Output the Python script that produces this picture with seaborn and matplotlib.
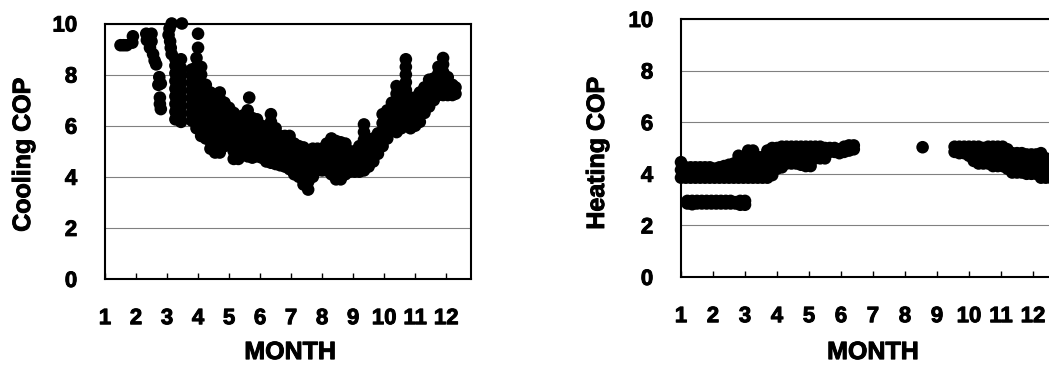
import matplotlib
matplotlib.use("Agg")
import matplotlib.pyplot as plt
import matplotlib.patheffects as pe
import pandas as pd
import seaborn as sns

# ---------------- Cooling COP (left panel) ----------------
# sparse early-season points (month, COP)
cool_early_month = [1.5, 1.6, 1.7, 1.88, 1.9,
                    2.33, 2.5, 2.35, 2.5, 2.45, 2.55, 2.6, 2.65,
                    2.75, 2.8, 2.72, 2.77, 2.77, 2.8,
                    3.15, 3.48, 3.08, 3.05, 3.1, 3.12, 3.15]
cool_early_cop = [9.15, 9.15, 9.15, 9.25, 9.5,
                  9.6, 9.6, 9.35, 9.3, 9.05, 8.8, 8.55, 8.4,
                  7.9, 7.65, 7.6, 7.1, 6.85, 6.65,
                  10.0, 10.0, 9.8, 9.55, 9.3, 9.05, 8.8]

# main cloud: one column of COP readings per month position
cool_month = [3.27, 3.45, 3.8, 3.95, 4.0, 4.1, 4.25, 4.4, 4.55, 4.7, 4.85, 5.0,
              5.15, 5.3, 5.45, 5.6, 5.65, 5.75, 5.9, 6.05, 6.2, 6.35, 6.5,
              6.65, 6.8, 6.95, 7.1, 7.25, 7.4, 7.55, 7.7, 7.85, 8.0, 8.15,
              8.3, 8.45, 8.6, 8.75, 8.9, 9.05, 9.2, 9.35, 9.5, 9.65, 9.8,
              9.95, 10.1, 10.25, 10.4, 10.55, 10.7, 10.85, 11.0, 11.15, 11.3,
              11.45, 11.6, 11.75, 11.9, 12.05, 12.2, 12.3]
cool_cop = [
    [6.25, 6.55, 6.85, 7.15, 7.45, 7.75, 8.05, 8.35, 8.6],
    [6.15, 6.45, 6.75, 7.05, 7.35, 7.65, 7.95, 8.25, 8.6],
    [6.2, 6.5, 6.8, 7.1, 7.4, 7.7, 8.0, 8.2],
    [5.9, 6.2, 6.5, 6.8, 7.1, 7.4, 7.7, 8.0, 8.3, 8.65],
    [9.05, 9.6],
    [5.6, 5.9, 6.2, 6.5, 6.8, 7.1, 7.4, 7.7, 8.0, 8.3],
    [5.5, 5.8, 6.1, 6.4, 6.7, 7.0, 7.3, 7.6],
    [5.1, 5.4, 5.7, 6.0, 6.3, 6.6, 6.95, 7.3],
    [4.95, 5.25, 5.55, 5.85, 6.15, 6.45, 6.75, 7.0, 7.2],
    [4.95, 5.25, 5.55, 5.85, 6.15, 6.45, 6.75, 7.05, 7.3],
    [5.2, 5.5, 5.8, 6.1, 6.4, 6.65, 6.9],
    [5.3, 5.6, 5.9, 6.2, 6.45, 6.7],
    [4.7, 5.0, 5.3, 5.6, 5.9, 6.2, 6.5],
    [4.7, 5.0, 5.3, 5.55, 5.8, 6.0],
    [5.0, 5.3, 5.6, 5.9, 6.15, 6.4],
    [4.8, 5.1, 5.4, 5.7, 6.0, 6.3, 6.6],
    [7.1],
    [4.75, 5.05, 5.35, 5.65, 5.95, 6.3],
    [4.8, 5.1, 5.4, 5.7, 6.0, 6.25],
    [4.75, 5.05, 5.35, 5.65, 6.0],
    [4.6, 4.9, 5.2, 5.5, 5.75, 5.9],
    [4.55, 4.85, 5.15, 5.45, 5.7, 5.9, 6.15, 6.45],
    [4.5, 4.8, 5.1, 5.4, 5.65, 5.9],
    [4.45, 4.75, 5.05, 5.35, 5.6],
    [4.4, 4.7, 5.0, 5.3, 5.6],
    [4.3, 4.6, 4.9, 5.2, 5.45, 5.6],
    [4.1, 4.4, 4.7, 5.0, 5.3],
    [4.0, 4.3, 4.6, 4.9, 5.2],
    [3.7, 4.0, 4.3, 4.6, 4.9, 5.15],
    [3.5, 3.8, 4.1, 4.4, 4.7, 5.0],
    [4.0, 4.3, 4.6, 4.85, 5.1],
    [4.25, 4.55, 4.85, 5.1],
    [4.25, 4.55, 4.85, 5.1],
    [4.25, 4.55, 4.85, 5.1, 5.3],
    [4.1, 4.4, 4.7, 5.0, 5.25, 5.5],
    [3.9, 4.2, 4.5, 4.8, 5.1, 5.4],
    [3.9, 4.2, 4.5, 4.8, 5.1, 5.35],
    [4.1, 4.4, 4.7, 5.0, 5.3],
    [4.2, 4.5, 4.75, 5.0],
    [4.2, 4.5, 4.75, 5.0],
    [4.2, 4.5, 4.8, 5.0, 5.2],
    [4.25, 4.55, 4.85, 5.15, 5.45, 5.75, 6.05],
    [4.4, 4.7, 5.0, 5.25, 5.45],
    [4.6, 4.9, 5.2, 5.5],
    [4.9, 5.15, 5.45, 5.7],
    [5.2, 5.5, 5.8, 6.1, 6.45],
    [5.5, 5.8, 6.1, 6.35, 6.6],
    [5.8, 6.1, 6.4, 6.65, 6.9],
    [5.75, 6.05, 6.35, 6.65, 6.95, 7.25, 7.55],
    [5.9, 6.2, 6.5, 6.8, 7.05],
    [6.2, 6.5, 6.8, 7.1, 7.4, 7.7, 8.0, 8.3, 8.6],
    [5.9, 6.2, 6.5, 6.8, 7.1],
    [6.0, 6.3, 6.6, 6.85, 7.1],
    [6.15, 6.45, 6.75, 7.05, 7.3],
    [6.5, 6.8, 7.1, 7.3, 7.5],
    [6.75, 7.05, 7.3, 7.55, 7.8],
    [7.0, 7.3, 7.6, 7.85],
    [7.2, 7.5, 7.8, 8.05, 8.3],
    [7.2, 7.5, 7.8, 8.1, 8.4, 8.65],
    [7.2, 7.45, 7.7, 7.9],
    [7.2, 7.4, 7.6],
    [7.25, 7.5],
]

# ---------------- Heating COP (right panel) ----------------
heat_month = [1.0, 1.15, 1.3, 1.45, 1.6, 1.75, 1.9, 2.05, 2.2, 2.35, 2.5, 2.65,
              2.8, 2.95, 3.1, 3.25, 3.4, 3.55, 3.7, 3.85, 4.0, 4.15, 4.3,
              4.45, 4.6, 4.75, 4.9, 5.05, 5.2, 5.35, 5.5, 5.65, 5.8, 5.95,
              6.1, 6.25, 6.4, 8.55, 9.55, 9.7, 9.85, 10.0, 10.15, 10.3,
              10.45, 10.6, 10.75, 10.9, 11.05, 11.2, 11.35, 11.5, 11.65,
              11.8, 11.95, 12.1, 12.25, 12.4, 12.55]
heat_cop = [
    [3.85, 4.15, 4.45],
    [3.85, 4.05, 4.25],
    [3.85, 4.05, 4.25],
    [3.85, 4.05, 4.25],
    [3.85, 4.05, 4.25],
    [3.85, 4.05, 4.25],
    [3.85, 4.05, 4.25],
    [3.85, 4.05, 4.2],
    [3.85, 4.05, 4.25],
    [3.85, 4.05, 4.3],
    [3.85, 4.1, 4.35],
    [3.85, 4.1, 4.4],
    [3.85, 4.15, 4.45, 4.7],
    [3.85, 4.05, 4.3],
    [3.85, 4.15, 4.45, 4.7, 4.9],
    [3.85, 4.15, 4.45, 4.7, 4.9],
    [3.85, 4.15, 4.4, 4.65],
    [3.85, 4.15, 4.4, 4.65],
    [3.85, 4.15, 4.45, 4.7, 4.9],
    [3.95, 4.25, 4.55, 4.85, 5.0],
    [4.2, 4.5, 4.8, 5.0],
    [4.25, 4.55, 4.8, 5.05],
    [4.4, 4.65, 4.85, 5.05],
    [4.4, 4.65, 4.85, 5.05],
    [4.4, 4.65, 4.85, 5.05],
    [4.35, 4.6, 4.85, 5.05],
    [4.3, 4.55, 4.8, 5.05],
    [4.3, 4.55, 4.8, 5.05],
    [4.6, 4.85, 5.05],
    [4.6, 4.85, 5.05],
    [4.6, 4.85, 5.0],
    [4.85, 5.0],
    [4.85, 5.0],
    [4.8, 4.95],
    [4.85, 5.05],
    [4.9, 5.1],
    [4.95, 5.1],
    [5.03],
    [4.85, 5.05],
    [4.8, 5.05],
    [4.8, 5.05],
    [4.7, 4.9, 5.05],
    [4.5, 4.75, 5.05],
    [4.4, 4.7, 5.05],
    [4.4, 4.7, 5.0],
    [4.4, 4.7, 5.05],
    [4.3, 4.55, 4.8, 5.05],
    [4.3, 4.55, 4.8, 5.05],
    [4.3, 4.55, 4.8, 5.05],
    [4.2, 4.45, 4.7, 4.95],
    [4.05, 4.3, 4.55, 4.8],
    [4.05, 4.3, 4.55, 4.8],
    [4.05, 4.3, 4.55, 4.8],
    [4.0, 4.25, 4.5, 4.75],
    [4.0, 4.25, 4.5, 4.75],
    [4.0, 4.25, 4.5, 4.75],
    [3.85, 4.1, 4.35, 4.6, 4.8],
    [3.85, 4.1, 4.35, 4.6],
    [3.85, 4.1, 4.35],
]
# lower heating band (Jan-Mar)
heat_low_month = [1.2, 1.35, 1.5, 1.65, 1.8, 1.95, 2.1, 2.25, 2.4, 2.55,
                  2.7, 2.85, 3.0]
heat_low_cop = [
    [2.85, 2.95], [2.82, 2.95], [2.85, 2.95], [2.85, 2.95], [2.85, 2.95],
    [2.85, 2.95], [2.85, 2.95], [2.85, 2.95], [2.85, 2.95], [2.85, 2.95],
    [2.85, 2.9], [2.8, 2.95], [2.8, 2.95],
]

y_ticks = [0, 2, 4, 6, 8, 10]
x_ticks = list(range(1, 13))


def columns_to_frame(months, cops):
    xs, ys = [], []
    for m, col in zip(months, cops):
        for c in col:
            xs.append(m)
            ys.append(c)
    return pd.DataFrame({"month": xs, "cop": ys})


cool_df = pd.concat([
    pd.DataFrame({"month": cool_early_month, "cop": cool_early_cop}),
    columns_to_frame(cool_month, cool_cop),
], ignore_index=True)
heat_df = pd.concat([
    columns_to_frame(heat_month, heat_cop),
    columns_to_frame(heat_low_month, heat_low_cop),
], ignore_index=True)

sns.set_theme(style="white")
plt.rcParams["font.family"] = ["Liberation Sans", "DejaVu Sans"]
plt.rcParams["font.weight"] = "bold"

W, H = 1049, 369
fig = plt.figure(figsize=(W / 100, H / 100), dpi=100)
fig.patch.set_facecolor("white")
ax1 = fig.add_axes([105 / W, 90 / H, 366 / W, 255.5 / H])
ax2 = fig.add_axes([681 / W, 92 / H, 377.6 / W, 258 / H])

heavy = [pe.withStroke(linewidth=0.7, foreground="black")]

panels = [
    (ax1, cool_df, "Cooling COP", (-0.224, 0.486), (0.5055, -0.286)),
    (ax2, heat_df, "Heating COP", (-0.2225, 0.479), (0.508, -0.291)),
]

for ax, df, ylab, ycoord, xcoord in panels:
    sns.scatterplot(data=df, x="month", y="cop", ax=ax, s=82, color="black",
                    edgecolor="none", linewidth=0, legend=False, clip_on=False,
                    zorder=3)
    ax.set_xlim(1, 12.8)
    ax.set_ylim(0, 10)
    ax.set_xticks(x_ticks)
    ax.set_xticklabels([str(v) for v in x_ticks])
    ax.set_yticks(y_ticks)
    ax.set_yticklabels([str(v) for v in y_ticks])
    ax.set_axisbelow(True)
    ax.grid(axis="y", color="#808080", linewidth=0.8)
    ax.grid(axis="x", visible=False)
    for sp in ax.spines.values():
        sp.set_visible(True)
        sp.set_color("black")
        sp.set_linewidth(1.5)
    ax.tick_params(axis="x", direction="in", length=4.5, width=1,
                   color="black", pad=21, labelsize=16, bottom=True)
    ax.tick_params(axis="y", length=0, pad=20, labelsize=16)
    for lbl in ax.get_xticklabels() + ax.get_yticklabels():
        lbl.set_fontweight("bold")
        lbl.set_color("black")
        lbl.set_path_effects(heavy)
    ax.set_xlabel("MONTH", fontsize=18, fontweight="bold", color="black",
                  va="center", path_effects=heavy)
    ax.set_ylabel(ylab, fontsize=18, fontweight="bold", color="black",
                  va="center", path_effects=heavy)
    ax.yaxis.set_label_coords(*ycoord)
    ax.xaxis.set_label_coords(*xcoord)

fig.savefig("out.png", dpi=100, facecolor="white")
